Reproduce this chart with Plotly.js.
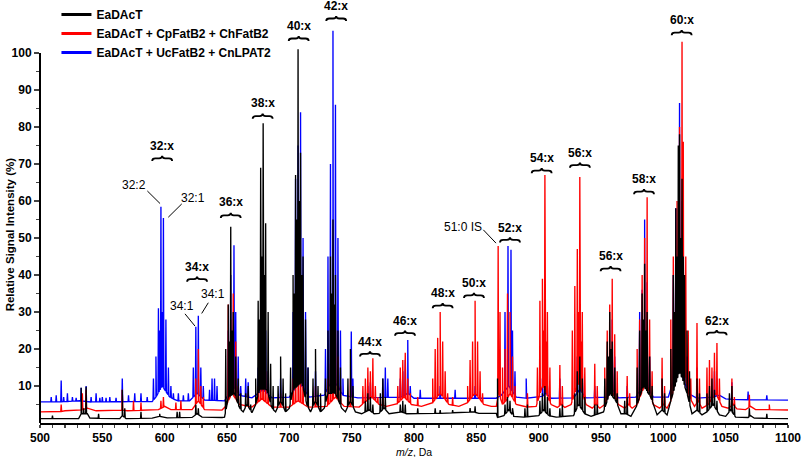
<!DOCTYPE html>
<html>
<head>
<meta charset="utf-8">
<script src="https://cdn.plot.ly/plotly-3.0.1.min.js"></script>
<style>html,body{margin:0;padding:0;background:#fff;}#chart{width:803px;height:457px;}</style>
</head>
<body>
<div id="chart"></div>
<script>
// ---------- DATA ----------
const seriesNames = ['EaDAcT', 'EaDAcT + CpFatB2 + ChFatB2', 'EaDAcT + UcFatB2 + CnLPAT2'];

// EaDAcT (black)
const blackBaseMz  = [500,531,533,538,540,564,566,569,590,596,602,622,626,630,646,648,649.5,651,656,660,663,666,670,673,676,682,686,689,693,697,700,703,710,714,717,721,725,728,731,737,742,745,749,753,758,764,768,772,776,780,790,794,820,848,852,866,867,872,876,880,888,900,904,908,914,928,932,937,942,952,957,962,966,970,974,978,984,990,995,999,1003,1006,1013,1019,1023,1027,1031,1035,1040,1045,1050,1054,1058,1068,1070,1073,1100];
const blackBaseInt = [1.2,1.2,2.5,2.5,1.3,1.2,2,1.2,1.3,1.8,1.4,1.5,2.5,1.6,1.5,1.6,4,7,8,4,3,5,2.8,5,9,9,4,3,6,3,4,9,11,5,3,6,3,4,8,8,4,3,6,3,2.5,3.5,2.5,2.6,4,2.5,3,2.5,2.6,3,2.6,2.6,1.5,2,3.5,1.8,1.6,2,3.5,2,1.6,2,5,2.5,1.8,3,8,6,2.5,2.5,1.8,4,10,7,2.2,3.5,2.2,6,14,8,2.5,3.5,2.2,3,5,2.2,1.8,3.5,1.6,1.5,2,1.3,1.2];
const blackPeakMz  = [510,533,535,537,547,566,568,581,596,610,612,625,627,649,651,652,653,654,655,657,659,661,665,667,669,673,675,676,677,678,679,680,681,683,685,687,691,693,695,697,701,703,704,705,706,707,708,709,710,711,713,715,719,721,723,725,729,731,733,734,735,736,737,739,741,747,749,751,761,763,765,767,773,775,777,789,791,793,803,817,821,831,845,849,867,873,875,877,879,889,891,901,903,905,907,909,917,919,929,931,933,935,937,945,947,953,955,956,957,958,959,961,963,969,971,979,981,983,984,985,986,987,989,991,999,1001,1006,1008,1009,1010,1011,1012,1013,1014,1015,1016,1017,1019,1021,1027,1029,1035,1037,1039,1041,1043,1053,1055,1057,1069,1083];
const blackPeakInt = [2,9.5,4,9.8,2.5,9,4,3,2.5,3,3,5,4,20,32,22,53,25,30,18,12,8,8,10,5,12,33,28,69,45,81,40,54,30,16,10,10,18,12,8,15,40,35,67,55,101,60,73,40,45,28,15,12,20,10,8,12,25,45,35,55,32,40,25,15,12,20,10,6,8,7,5,8,12,7,5,6,5,4,4,3.5,3.5,4,4.5,12,5,7,6,4,4,5,6,8,10,7,4,4,5,8,14,18,12,7,5,5,12,22,18,30,20,22,15,8,6,7,15,25,35,28,43,25,30,18,10,12,8,20,40,30,58,45,75,78,50,66,45,40,25,14,12,8,8,10,12,9,6,8,10,5,4,2.5];

// EaDAcT + CpFatB2 + ChFatB2 (red)
const redBaseMz  = [500,515,520,533,538,545,565,570,595,600,605,622,627,632,646,649,654,660,670,678,686,700,707,715,730,737,744,756,760,766,772,778,786,792,798,806,815,821,828,836,843,849,856,862,866,868,871,874,877,882,890,898,903,910,915,918,921,926,932,938,943,946,949,953,958,964,969,972,975,979,986,992,997,1000,1003,1006,1014,1021,1025,1028,1031,1036,1042,1047,1052,1056,1059,1066,1070,1074,1085,1100];
const redBaseInt = [3,3,3.3,3.5,4,3.3,3.5,3.3,3.6,4.5,3.6,3.6,6,3.6,3.5,4.5,8,5,4.3,6.5,4.3,4.3,6,4.3,4.5,7,4.5,4.3,5.5,7,5,4.5,5,7,5,4.5,5.5,8,5,4.5,5.5,8,5,4.5,4.5,8,5,6,8,5,4.3,4.5,10,5,4.2,5,4.2,5,11,5,4,5,4,5,9,5,4,5,4,5,11,5,4,5,4,6,18,7,4.5,6,4,5,8,4.5,4,5,3.8,3.6,4.5,3.6,3.6,3.5];
const redPeakMz  = [517,534,537,566,575,581,597,599,609,613,625,627,629,631,651,653,655,657,659,667,675,677,679,681,683,693,703,705,707,709,711,721,731,733,735,737,739,741,749,759,761,763,765,767,769,771,775,787,789,791,793,795,797,803,815,817,819,821,823,825,827,831,843,845,847,849,851,853,855,867.5,869,871,873,875,877,879,881,891,899,901,903,904,905,906,907,909,917,919,927,929,931,932,933,934,935,937,945,947,953,955,957,959,961,963,971,973,979,981,983,985,987,989,991,999,1001,1006,1008,1011,1013,1015,1016,1018,1020,1022,1027,1029,1035,1037,1039,1041,1043,1045,1055,1057,1069,1085];
const redPeakInt = [5,8,9,9,6,5.5,6,7,5.5,6,12,20,10,7,32,28,35,22,10,8,10,14,18,14,9,8,12,16,20,18,12,10,12,16,22,25,18,10,12,10,12,15,14,17.5,10,7,9,10,15,17,19,12,8,7,12,20,23,30,22,14,8,7,10,17,22,33,22,14,8,47.8,30,15,20,35,30,18,10,8,15,33,39,25,67,22,30,15,15.7,10,25,37,47,30,66.5,22,30,15,16,10,15,25,32,39,24,14,12.7,8,20,28,40,50,61,28,14,17.6,10,28,45,60,80,103,76,45,25,12,27,12,15,17,15,19,21.6,12,12,7,7.6,5];

// EaDAcT + UcFatB2 + CnLPAT2 (blue)
const blueBaseMz  = [500,515,532,540,590,593,598,604,610,620,626,632,648,650,655,660,670,679,686,700,708,716,728,735,743,755,790,795,800,866,870,876,882,890,903,906,910,928,933,938,955,959,964,978,985,992,1004,1012,1020,1026,1040,1045,1050,1060,1100];
const blueBaseInt = [5.7,5.7,6,5.7,5.8,7,10,7,6,6,8,6.2,6,7,10,7.5,6.8,9,6.8,7,11,7,7.5,12,7.5,6.8,7,8,6.7,6.7,7.5,10,7,6.7,7.2,8,6.7,6.8,9,6.8,7,9,6.8,7,11,7,7,16,8,6.7,7,7.5,6.5,6.3,6.2];
const bluePeakMz  = [509,513,517,519,522,526,529,533,537,541,545,548,550,553,556,561,566,571,576,581,586,591,593,595,596,597,598,599,601,603,605,607,611,615,619,623,625,627,629,631,636,638,640,642,651,653,655.6,657,659,661,665,667,675,677,679,681,683,693,703,705,707,709,711,713,715,721,729,731,733,735,737,739,741,743,749.7,751,763,765,775,777,779,789,791,793,795,797,805,821,833,849,873,875.4,877.8,879,881,890,903,905,907,917,931,933,935,945,957,959,961,971,981,983,985,987,989,999,1008,1010,1013,1015,1017,1019,1027,1041,1043,1055,1068,1083];
const bluePeakInt = [7,7.5,11.5,7,8,7,6.8,9.5,10,7,8,6.8,7,6.8,7,6.8,12,7.5,8,8,7,12,18,31,25,58.4,30,55.4,28,15,10,8,8,7.5,8,15,26,29,15,10,9,12,12,10,25,40,48,30,18,10,12,11,15,25,35,25,14,12,30,66,75,84,50,30,15,14,20,45,70,106,86,50,25,12,24.7,12,10,11,12,15,12,12,14,17,22.4,10,9,10,9,10,30,47.8,46.8,25,14,12,12,14,10,12,18,25,14,10,20,28,18,10,30,36,55,38,18,12,40,58,86.5,60,35,18,15,14,12,11,8.5,7.5];

// Labels
const clusterLabels = ['32:x','34:x','36:x','38:x','40:x','42:x','44:x','46:x','48:x','50:x','52:x','54:x','56:x','56:x','58:x','60:x','62:x'];
const speciesLabels = ['32:2','32:1','34:1','34:1','51:0 IS'];
const xTickVals = [500,550,600,650,700,750,800,850,900,950,1000,1050,1100];
const yTickVals = [10,20,30,40,50,60,70,80,90,100];

// ---------- LAYOUT CONFIG (positions) ----------
const clusterPos = [ // [x center, text y, brace tip y]
  [598,74.8,72.2],[626,42.2,39.6],[653,59.6,56.8],[678.6,86.4,83.6],[707.5,107.2,104.6],[737.6,112.6,110],
  [764.7,22,19.4],[792.8,27.6,25],[823,35.2,32.4],[848.1,37.9,35.2],[877,52.8,50.2],[902.4,71.5,68.9],
  [933.1,73,70.4],[957.7,45.1,42.4],[984.5,65.8,63.2],[1014.7,108.9,106.2],[1042.8,27.6,25.1]];
const speciesPos = [ // [text x, text y, line x0, y0, x1, y1]
  [575.4,64.3,586.1,62.7,596.3,59.3],
  [622.5,60.8,613.7,59.2,602.9,55.6],
  [613.6,31.7,616.3,29.5,624.3,26.2],
  [639,34.9,635,32.5,629.7,29.6],
  [839.6,53,855.6,52.2,865.8,48.6]];

function interp(xs, ys, x) {
  if (x <= xs[0]) return ys[0];
  for (let i = 1; i < xs.length; i++) {
    if (x <= xs[i]) {
      const t = (x - xs[i-1]) / (xs[i] - xs[i-1]);
      return ys[i-1] + t * (ys[i] - ys[i-1]);
    }
  }
  return ys[ys.length-1];
}
function profile(baseMz, baseInt, peakMz, peakInt) {
  const pts = [];
  for (let i = 0; i < baseMz.length; i++) pts.push([baseMz[i], baseInt[i]]);
  const hw = 0.35;
  for (let i = 0; i < peakMz.length; i++) {
    const m = peakMz[i];
    pts.push([m - hw, interp(baseMz, baseInt, m - hw)]);
    pts.push([m, peakInt[i]]);
    pts.push([m + hw, interp(baseMz, baseInt, m + hw)]);
  }
  pts.sort((a, b) => a[0] - b[0]);
  return {x: pts.map(p => p[0]), y: pts.map(p => p[1])};
}

const colors = ['#000000', '#ff0000', '#0000ff'];
const pb = profile(blueBaseMz, blueBaseInt, bluePeakMz, bluePeakInt);
const pr = profile(redBaseMz, redBaseInt, redPeakMz, redPeakInt);
const pk = profile(blackBaseMz, blackBaseInt, blackPeakMz, blackPeakInt);

const LW = 1.35;
const traces = [
  {x: pb.x, y: pb.y, mode: 'lines', line: {color: colors[2], width: LW}, name: seriesNames[2], showlegend: false, hoverinfo: 'skip'},
  {x: pr.x, y: pr.y, mode: 'lines', line: {color: colors[1], width: LW}, name: seriesNames[1], showlegend: false, hoverinfo: 'skip'},
  {x: pk.x, y: pk.y, mode: 'lines', line: {color: colors[0], width: LW}, name: seriesNames[0], showlegend: false, hoverinfo: 'skip'},
  {x: [null], y: [null], mode: 'lines', line: {color: colors[0], width: 3}, name: seriesNames[0], showlegend: true},
  {x: [null], y: [null], mode: 'lines', line: {color: colors[1], width: 3}, name: seriesNames[1], showlegend: true},
  {x: [null], y: [null], mode: 'lines', line: {color: colors[2], width: 3}, name: seriesNames[2], showlegend: true}
];

const FONT = 'Liberation Sans, Arial, sans-serif';
const shapes = [
  {type: 'line', xref: 'paper', yref: 'y', x0: 0, x1: 0, y0: 0, y1: 100, line: {color: '#000', width: 2}}
];
const annotations = [];
clusterLabels.forEach((t, i) => {
  const [xc, ty, tip] = clusterPos[i];
  annotations.push({x: xc, y: ty, xref: 'x', yref: 'y', text: t, showarrow: false,
    font: {family: FONT, size: 12, color: '#000', weight: 'bold'}, xanchor: 'center', yanchor: 'middle'});
  const w = 8, y0 = tip - 1.4, ym = tip - 0.7;
  shapes.push({type: 'path', xref: 'x', yref: 'y', line: {color: '#000', width: 1.8},
    path: `M ${xc-w},${y0} Q ${xc-w},${ym} ${xc-w+2.5},${ym} L ${xc-2.5},${ym} Q ${xc},${ym} ${xc},${tip} Q ${xc},${ym} ${xc+2.5},${ym} L ${xc+w-2.5},${ym} Q ${xc+w},${ym} ${xc+w},${y0}`});
});
speciesLabels.forEach((t, i) => {
  const p = speciesPos[i];
  annotations.push({x: p[0], y: p[1], xref: 'x', yref: 'y', text: t, showarrow: false,
    font: {family: FONT, size: 12, color: '#000'}, xanchor: 'center', yanchor: 'middle'});
  shapes.push({type: 'line', xref: 'x', yref: 'y', x0: p[2], y0: p[3], x1: p[4], y1: p[5], line: {color: '#000', width: 1}});
});
annotations.push({xref: 'paper', yref: 'y', x: -0.04, y: 51, text: 'Relative Signal Intensity (%)', textangle: -90,
  showarrow: false, xanchor: 'center', yanchor: 'middle', font: {family: FONT, size: 11.5, color: '#000', weight: 'bold'}});
annotations.push({xref: 'paper', yref: 'paper', x: 0.4995, y: -0.068, text: '<i>m/z</i>, Da',
  showarrow: false, xanchor: 'center', yanchor: 'middle', borderpad: 0, font: {family: FONT, size: 10.5, color: '#000'}});

const layout = {
  width: 803, height: 457,
  margin: {l: 40, r: 15, t: 0, b: 34},
  paper_bgcolor: '#fff', plot_bgcolor: '#fff',
  font: {family: FONT, color: '#000'},
  showlegend: true,
  legend: {x: 0.022, y: 1.0, xanchor: 'left', yanchor: 'top', bgcolor: 'rgba(0,0,0,0)',
    font: {family: FONT, size: 12, color: '#000', weight: 'bold'}, tracegroupgap: 0, itemwidth: 30},
  xaxis: {range: [500, 1100], tickvals: xTickVals, ticks: 'outside', ticklen: 3, tickwidth: 1.5,
    showline: true, linewidth: 2, linecolor: '#000', showgrid: false, zeroline: false,
    tickfont: {family: FONT, size: 12, color: '#000', weight: 'bold'},
    minor: {dtick: 10, tick0: 500, ticks: 'outside', ticklen: 2.5, tickwidth: 1.2, showgrid: false}},
  yaxis: {range: [0, 114.3], tickvals: yTickVals, ticks: 'outside', ticklen: 5, tickwidth: 1.5,
    showline: false, showgrid: false, zeroline: false,
    tickfont: {family: FONT, size: 12, color: '#000', weight: 'bold'},
    minor: {tickvals: [5,15,25,35,45,55,65,75,85,95], ticks: 'outside', ticklen: 3, tickwidth: 1.2, showgrid: false}},
  shapes: shapes,
  annotations: annotations
};

Plotly.newPlot('chart', traces, layout, {displayModeBar: false, staticPlot: true});
</script>
</body>
</html>
